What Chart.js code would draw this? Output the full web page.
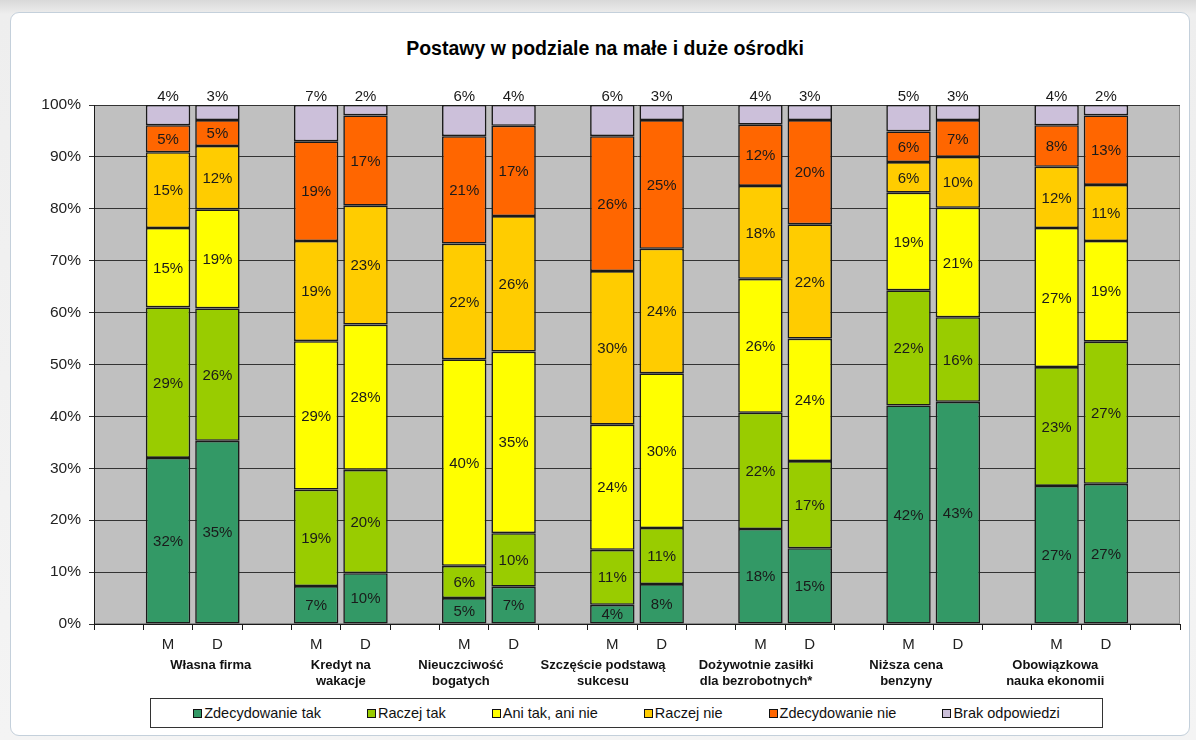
<!DOCTYPE html>
<html lang="pl">
<head>
<meta charset="utf-8">
<title>Postawy w podziale na małe i duże ośrodki</title>
<script src="https://cdn.jsdelivr.net/npm/chart.js@4.4.1/dist/chart.umd.min.js"></script>
<style>
  html, body { margin: 0; padding: 0; }
  body {
    width: 1196px; height: 740px; overflow: hidden; position: relative;
    background: linear-gradient(#d9d9d9 0, #eeeeee 14px, #f4f4f4 100%);
    font-family: "Liberation Sans", Arial, sans-serif;
  }
  .frame {
    position: absolute; left: 10px; top: 12px; width: 1178px; height: 722px;
    background: #fff; border: 1px solid #c4d0db; border-radius: 9px;
  }
  canvas { position: absolute; left: 0; top: 0; }
  .title {
    position: absolute; left: 0; width: 1210px; top: 37px; text-align: center;
    font-weight: bold; font-size: 19.5px; color: #000;
  }
  .legend {
    position: absolute; left: 150px; top: 698px; width: 951px; height: 28px;
    border: 1px solid #333; display: flex; align-items: center; justify-content: center;
    gap: 46px; font-size: 14.5px; color: #111; background: #fff;
  }
  .legend span { display: flex; align-items: center; }
  .legend i {
    display: inline-block; width: 7px; height: 7px; border: 1px solid #111; margin-right: 2px;
  }
</style>
</head>
<body>
<div class="frame"></div>
<div class="title">Postawy w podziale na małe i duże ośrodki</div>
<canvas id="chart" width="1196" height="740"></canvas>
<div class="legend" id="legend"></div>
<script>
"use strict";

const $ = (id) => document.getElementById(id);

// categories
const groups = [
  ["Własna firma"],
  ["Kredyt na", "wakacje"],
  ["Nieuczciwość", "bogatych"],
  ["Szczęście podstawą", "sukcesu"],
  ["Dożywotnie zasiłki", "dla bezrobotnych*"],
  ["Niższa cena", "benzyny"],
  ["Obowiązkowa", "nauka ekonomii"],
];
const subLabels = ["M", "D"];
const yTicks = [0, 10, 20, 30, 40, 50, 60, 70, 80, 90, 100];

// series (percent), bar order: group1 M, group1 D, group2 M, ...
const seriesNames = [
  "Zdecydowanie tak",
  "Raczej tak",
  "Ani tak, ani nie",
  "Raczej nie",
  "Zdecydowanie nie",
  "Brak odpowiedzi",
];
const zdecydowanieTak = [32, 35.3, 7.3, 9.8, 5.0, 7.2, 3.7, 7.7, 18.3, 14.6, 42.1, 42.8, 26.6, 27.0];
const raczejTak = [29, 25.5, 18.6, 19.9, 6.2, 10.3, 10.6, 10.8, 22.4, 16.8, 22.2, 16.3, 22.9, 27.4];
const aniTakAniNie = [15.3, 19.1, 28.6, 28.0, 39.8, 35.0, 24.1, 29.8, 25.8, 23.6, 18.8, 21.1, 26.8, 19.4];
const raczejNie = [14.6, 12.2, 19.3, 22.9, 22.3, 26.1, 29.6, 24.0, 17.9, 22.0, 5.9, 9.8, 11.8, 10.8];
const zdecydowanieNie = [5.2, 5.0, 19.2, 17.4, 20.7, 17.4, 26.0, 24.8, 11.8, 20.1, 5.9, 7.1, 8.0, 13.4];
const brakOdpowiedzi = [3.9, 2.9, 7.0, 2.0, 6.0, 4.0, 6.0, 2.9, 3.8, 2.9, 5.1, 2.9, 3.9, 2.0];

const colors = ["#339966", "#99cc00", "#ffff00", "#ffcc00", "#ff6600", "#ccc0da"];
// Excel places the group captions a little off the M/D midpoint
const groupLabelShift = [18, 0, -28, -34, -29, -27, -26];
const fontFamily = '"Liberation Sans", Arial, sans-serif';

// slots: one empty slot before each M/D pair and one at the end
const slotLabels = [];
groups.forEach(() => slotLabels.push("", ...subLabels));
slotLabels.push("");

function toSlots(values) {
  const out = [];
  groups.forEach((g, i) => out.push(null, values[i * 2], values[i * 2 + 1]));
  out.push(null);
  return out;
}

const seriesValues = [zdecydowanieTak, raczejTak, aniTakAniNie, raczejNie, zdecydowanieNie, brakOdpowiedzi];

$("legend").innerHTML = seriesNames
  .map((name, i) => `<span><i style="background:${colors[i]}"></i>${name}</span>`)
  .join("");

const plotBackground = {
  id: "plotBackground",
  beforeDraw(chart) {
    const { ctx, chartArea: a } = chart;
    ctx.save();
    ctx.fillStyle = "#c0c0c0";
    ctx.fillRect(a.left, a.top, a.right - a.left, a.bottom - a.top);
    ctx.strokeStyle = "#8a8a8a";
    ctx.lineWidth = 1;
    ctx.strokeRect(a.left + 0.5, a.top + 0.5, a.right - a.left - 1, a.bottom - a.top - 1);
    ctx.restore();
  },
};

const valueLabels = {
  id: "valueLabels",
  afterDatasetsDraw(chart) {
    const { ctx } = chart;
    ctx.save();
    ctx.font = "15px " + fontFamily;
    ctx.fillStyle = "#1a1a1a";
    ctx.textAlign = "center";
    ctx.textBaseline = "middle";
    const last = chart.data.datasets.length - 1;
    chart.data.datasets.forEach((ds, di) => {
      chart.getDatasetMeta(di).data.forEach((bar, i) => {
        const v = ds.data[i];
        if (v === null || v === undefined) return;
        const text = Math.round(v) + "%";
        if (di === last) ctx.fillText(text, bar.x, bar.y - 8);
        else ctx.fillText(text, bar.x, (bar.y + bar.base) / 2 + 1);
      });
    });
    ctx.restore();
  },
};

const groupLabels = {
  id: "groupLabels",
  afterDraw(chart) {
    const { ctx } = chart;
    const x = chart.scales.x;
    ctx.save();
    ctx.font = "bold 13px " + fontFamily;
    ctx.fillStyle = "#111";
    ctx.textAlign = "center";
    ctx.textBaseline = "middle";
    groups.forEach((lines, g) => {
      const cx = (x.getPixelForValue(1 + g * 3) + x.getPixelForValue(2 + g * 3)) / 2 + groupLabelShift[g];
      lines.forEach((line, li) => ctx.fillText(line, cx, 665 + li * 16));
    });
    ctx.restore();
  },
};

new Chart($("chart"), {
  type: "bar",
  data: {
    labels: slotLabels,
    datasets: seriesNames.map((name, i) => ({
      label: name,
      data: toSlots(seriesValues[i]),
      backgroundColor: colors[i],
      borderColor: "#1a1a1a",
      borderWidth: 1.6,
      borderSkipped: false,
      barPercentage: 0.9,
      categoryPercentage: 1,
    })),
  },
  options: {
    responsive: false,
    animation: false,
    devicePixelRatio: 1,
    layout: { padding: { left: 0, top: 105, right: 16, bottom: 86 } },
    plugins: {
      legend: { display: false },
      title: { display: false },
      tooltip: { enabled: false },
    },
    scales: {
      x: {
        stacked: true,
        offset: true,
        afterFit: (s) => { s.height = 30; },
        grid: {
          offset: true,
          drawOnChartArea: false,
          drawTicks: true,
          tickLength: 6,
          color: "#1a1a1a",
        },
        border: { color: "#1a1a1a", width: 1 },
        ticks: {
          autoSkip: false,
          maxRotation: 0,
          padding: 6,
          color: "#222",
          font: { family: fontFamily, size: 15 },
        },
      },
      y: {
        stacked: true,
        min: 0,
        max: 100,
        afterFit: (s) => { s.width = 94; },
        afterBuildTicks: (s) => { s.ticks = yTicks.map((v) => ({ value: v })); },
        grid: { color: "#333", lineWidth: 1, tickLength: 5 },
        border: { color: "#1a1a1a", width: 1 },
        ticks: {
          padding: 8,
          color: "#222",
          callback: (v) => v + "%",
          font: { family: fontFamily, size: 15.5 },
        },
      },
    },
  },
  plugins: [plotBackground, valueLabels, groupLabels],
});
</script>
</body>
</html>
